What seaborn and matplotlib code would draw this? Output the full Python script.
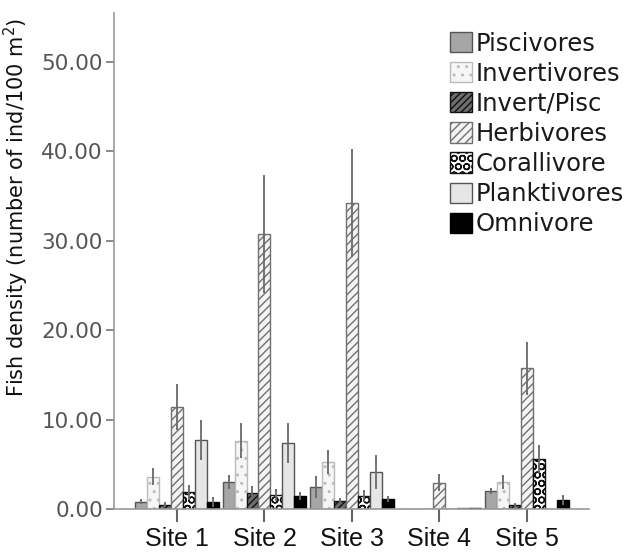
import numpy as np
import pandas as pd
import matplotlib
matplotlib.use("Agg")
import matplotlib.pyplot as plt
import matplotlib.transforms as mtransforms
import seaborn as sns
from matplotlib.patches import Patch

sites = ["Site 1", "Site 2", "Site 3", "Site 4", "Site 5"]
groups = ["Piscivores", "Invertivores", "Invert/Pisc", "Herbivores",
          "Corallivore", "Planktivores", "Omnivore"]

piscivores   = [0.82, 3.02, 2.50, 0.00, 1.98]
invertivores = [3.60, 7.64, 5.29, 0.00, 3.02]
invert_pisc  = [0.50, 1.80, 0.93, 0.00, 0.45]
herbivores   = [11.37, 30.76, 34.20, 2.94, 15.74]
corallivore  = [1.87, 1.57, 1.49, 0.00, 5.59]
planktivores = [7.72, 7.35, 4.17, 0.08, 0.00]
omnivore     = [0.82, 1.45, 1.12, 0.08, 1.00]

piscivores_err   = [0.20, 0.67, 1.10, 0.00, 0.22]
invertivores_err = [0.84, 1.83, 1.21, 0.00, 0.71]
invert_pisc_err  = [0.15, 0.70, 0.20, 0.00, 0.15]
herbivores_err   = [2.46, 6.49, 5.90, 0.83, 2.86]
corallivore_err  = [0.70, 0.53, 0.56, 0.00, 1.46]
planktivores_err = [2.16, 2.12, 1.79, 0.00, 0.00]
omnivore_err     = [0.44, 0.35, 0.26, 0.00, 0.45]

values = [piscivores, invertivores, invert_pisc, herbivores, corallivore, planktivores, omnivore]
errors = [piscivores_err, invertivores_err, invert_pisc_err, herbivores_err,
          corallivore_err, planktivores_err, omnivore_err]

rows = []
for g, vals, errs in zip(groups, values, errors):
    for s, v, e in zip(sites, vals, errs):
        rows.append({"site": s, "group": g, "value": v, "err": e})
df = pd.DataFrame(rows)

styles = {
    "Piscivores":   dict(fc="#a6a6a6", hatch="", hc="#555555"),
    "Invertivores": dict(fc="#f6f6f6", hatch="..", hc="#bbbbbb"),
    "Invert/Pisc":  dict(fc="#6e6e6e", hatch="/////", hc="#111111"),
    "Herbivores":   dict(fc="#f4f4f4", hatch="////", hc="#707070"),
    "Corallivore":  dict(fc="#ffffff", hatch="OO", hc="#111111"),
    "Planktivores": dict(fc="#e6e6e6", hatch="", hc="#555555"),
    "Omnivore":     dict(fc="#000000", hatch="", hc="#000000"),
}

sns.set_theme(style="white")
plt.rcParams["font.family"] = ["DejaVu Sans"]
plt.rcParams["hatch.linewidth"] = 1.0

fig = plt.figure(figsize=(6.3, 5.56), dpi=100)
ax = fig.add_axes([0.181, 0.0845, 0.754, 0.8925])

sns.barplot(data=df, x="site", y="value", hue="group", order=sites, hue_order=groups,
            errorbar=None, width=0.96, gap=0, legend=False, ax=ax)

patches = list(ax.patches)
for gi, g in enumerate(groups):
    st = styles[g]
    for si in range(len(sites)):
        p = patches[gi * len(sites) + si]
        p.set_facecolor(st["fc"])
        p.set_hatch(st["hatch"])
        p.set_edgecolor(st["hc"])
        p.set_linewidth(1.0)
        e = errors[gi][si]
        if e > 0:
            cx = p.get_x() + p.get_width() / 2
            h = p.get_height()
            ax.errorbar(cx, h, yerr=e, color="#6a6a6a", lw=1.3, capsize=1.0,
                        capthick=1.3, zorder=5)

ax.set_xlim(-0.72, 4.71)
ax.set_ylim(0, 55.5)
ax.set_yticks([0, 10, 20, 30, 40, 50])
ax.set_yticklabels([f"{v:.2f}" for v in [0, 10, 20, 30, 40, 50]], color="#555555",
                   fontsize=15.5)
ax.set_xticks(range(len(sites)))
ax.set_xticklabels(sites, fontsize=18, family="Liberation Sans", color="#111111")
ax.set_xlabel("")
ax.set_ylabel("Fish density (number of ind/100 m$^2$)", fontsize=15,
              family="DejaVu Sans", color="#111111")
ax.yaxis.set_label_coords(-0.174, 0.608)

# labels in the original sit slightly right of their ticks, more so to the right
label_shift_px = [12, 11.5, 17, 24, 29]
for lab, dx in zip(ax.get_xticklabels(), label_shift_px):
    lab.set_transform(lab.get_transform() +
                      mtransforms.ScaledTranslation(dx / 100.0, 0, fig.dpi_scale_trans))

for side in ["top", "right"]:
    ax.spines[side].set_visible(False)
for side in ["left", "bottom"]:
    ax.spines[side].set_color("#999999")
    ax.spines[side].set_linewidth(1.2)
ax.tick_params(axis="y", which="both", left=True, length=6, width=1.2, color="#777777", pad=2)
ax.tick_params(axis="x", which="both", bottom=True, length=9, width=1.5, color="#666666", pad=4)

handles = []
for g in groups:
    st = styles[g]
    handles.append(Patch(facecolor=st["fc"], edgecolor=st["hc"], hatch=st["hatch"],
                         linewidth=1.0, label=g))
leg = ax.legend(handles=handles, loc="upper left", bbox_to_anchor=(0.708, 0.962),
                frameon=False, fontsize=17.5, handlelength=0.9, handleheight=0.9,
                handletextpad=0.15, labelspacing=0.25, borderaxespad=0, borderpad=0)
for t in leg.get_texts():
    t.set_color("#1a1a1a")

fig.savefig("out.png", dpi=100)
